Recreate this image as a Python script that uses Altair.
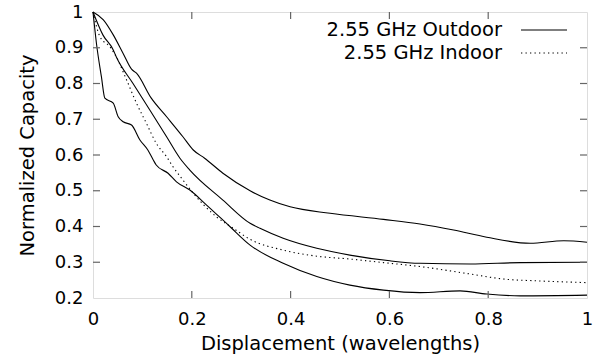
import altair as alt
import pandas as pd

# Outdoor curves (three solid lines)
xA = [0, 0.021, 0.041, 0.061, 0.078, 0.088, 0.118, 0.149, 0.182, 0.203, 0.226, 0.263, 0.318, 0.358, 0.399, 0.48, 0.588, 0.662, 0.73, 0.797, 0.885, 0.953, 1.0]
yA = [1, 0.978, 0.936, 0.884, 0.84, 0.829, 0.759, 0.707, 0.651, 0.614, 0.591, 0.549, 0.5, 0.474, 0.455, 0.437, 0.42, 0.407, 0.39, 0.37, 0.353, 0.36, 0.356]
xB = [0, 0.02, 0.041, 0.047, 0.081, 0.115, 0.149, 0.176, 0.196, 0.263, 0.318, 0.338, 0.385, 0.453, 0.52, 0.601, 0.662, 0.764, 0.865, 1.0]
yB = [1, 0.936, 0.894, 0.875, 0.80, 0.726, 0.651, 0.591, 0.558, 0.474, 0.409, 0.395, 0.367, 0.339, 0.32, 0.304, 0.297, 0.295, 0.299, 0.30]
xC = [0, 0.007, 0.017, 0.024, 0.041, 0.051, 0.061, 0.078, 0.095, 0.111, 0.122, 0.128, 0.152, 0.169, 0.196, 0.230, 0.277, 0.318, 0.385, 0.453, 0.52, 0.588, 0.662, 0.743, 0.797, 0.865, 1.0]
yC = [1, 0.912, 0.819, 0.759, 0.745, 0.707, 0.693, 0.684, 0.642, 0.614, 0.586, 0.572, 0.549, 0.525, 0.502, 0.46, 0.40, 0.348, 0.297, 0.26, 0.236, 0.222, 0.215, 0.22, 0.211, 0.206, 0.208]
# Indoor curve (dotted)
xD = [0, 0.014, 0.034, 0.047, 0.068, 0.088, 0.108, 0.128, 0.149, 0.162, 0.182, 0.203, 0.25, 0.284, 0.318, 0.385, 0.453, 0.52, 0.588, 0.662, 0.764, 0.831, 0.899, 1.0]
yD = [1, 0.931, 0.903, 0.875, 0.81, 0.745, 0.689, 0.633, 0.595, 0.567, 0.53, 0.493, 0.427, 0.395, 0.364, 0.334, 0.317, 0.309, 0.299, 0.288, 0.267, 0.253, 0.248, 0.243]

legend_labels = ["2.55 GHz Outdoor", "2.55 GHz Indoor"]
x_ticks = [0, 0.2, 0.4, 0.6, 0.8, 1.0]
y_ticks = [0.2, 0.3, 0.4, 0.5, 0.6, 0.7, 0.8, 0.9, 1.0]

FONT = "DejaVu Sans"
FS = 18
TFS = 19.5
W, H = 494, 286
LW = 1.1

rows = []
for name, xs, ys in [("A", xA, yA), ("B", xB, yB), ("C", xC, yC)]:
    for i, (x, y) in enumerate(zip(xs, ys)):
        rows.append({"series": name, "x": x, "y": y, "order": i})
outdoor = pd.DataFrame(rows)
indoor = pd.DataFrame({"x": xD, "y": yD, "order": list(range(len(xD)))})

xscale = alt.Scale(domain=[0, 1], nice=False, zero=False)
yscale = alt.Scale(domain=[0.2, 1], nice=False, zero=False)

xaxis = alt.Axis(values=x_ticks, format=".1~f", title="Displacement (wavelengths)",
                 grid=False, domain=False, ticks=False, labelPadding=12, labelOverlap=False,
                 labelFlush=False,
                 labelFont=FONT, labelFontSize=FS, titleFont=FONT, titleFontSize=TFS,
                 titleFontWeight="normal", titlePadding=6, labelColor="black", titleColor="black")
yaxis = alt.Axis(values=y_ticks, format=".1~f", title="Normalized Capacity",
                 grid=False, domain=False, ticks=False, labelPadding=10, labelOverlap=False,
                 labelFlush=False,
                 labelFont=FONT, labelFontSize=FS, titleFont=FONT, titleFontSize=TFS,
                 titleFontWeight="normal", titlePadding=17, labelColor="black", titleColor="black")

X = lambda: alt.X("x:Q", scale=xscale, axis=xaxis)
Y = lambda: alt.Y("y:Q", scale=yscale, axis=yaxis)

lines_out = alt.Chart(outdoor).mark_line(color="black", strokeWidth=LW, interpolate="monotone").encode(
    x=X(), y=Y(), detail="series:N", order="order:Q",
)
lines_in = alt.Chart(indoor).mark_line(color="black", strokeWidth=LW, strokeDash=[1.3, 3.2],
                                       interpolate="monotone").encode(
    x=X(), y=Y(), order="order:Q",
)

# inward ticks (mirrored on all sides)
xt = pd.DataFrame({"x": x_ticks[1:-1]})
yt = pd.DataFrame({"y": y_ticks[1:-1]})
tick_col = "#666666"
xb = alt.Chart(xt).mark_rule(color=tick_col, strokeWidth=1.2).encode(
    x=X(), y=alt.value(H), y2=alt.value(H - 7))
xtop = alt.Chart(xt).mark_rule(color=tick_col, strokeWidth=1.2).encode(
    x=X(), y=alt.value(0), y2=alt.value(7))
yl = alt.Chart(yt).mark_rule(color=tick_col, strokeWidth=1.2).encode(
    y=Y(), x=alt.value(0), x2=alt.value(7))
yr = alt.Chart(yt).mark_rule(color=tick_col, strokeWidth=1.2).encode(
    y=Y(), x=alt.value(W), x2=alt.value(W - 7))

# legend (manual, gnuplot style: right-aligned text then line sample)
leg_layers = []
for i, (lab, dash) in enumerate(zip(legend_labels, [None, [1.3, 3.2]])):
    ypix = 18 + 23 * i
    ldf = pd.DataFrame({"label": [lab]})
    leg_layers.append(alt.Chart(ldf).mark_text(
        align="right", baseline="middle", font=FONT, fontSize=TFS, color="black"
    ).encode(text="label:N", x=alt.value(409), y=alt.value(ypix)))
    kw = {"color": "black", "strokeWidth": LW}
    if dash:
        kw["strokeDash"] = dash
    leg_layers.append(alt.Chart(ldf).mark_rule(**kw).encode(
        x=alt.value(428), x2=alt.value(474), y=alt.value(ypix)))

chart = alt.layer(lines_out, lines_in, xb, xtop, yl, yr, *leg_layers).properties(
    width=W, height=H,
    autosize=alt.AutoSizeParams(type="none"),
    padding={"left": 93, "top": 12, "right": 14, "bottom": 63},
).configure_view(
    stroke="#666666", strokeWidth=1.2
).configure(background="white")

chart.save("out.html", embed_options={"renderer": "svg", "actions": False})
